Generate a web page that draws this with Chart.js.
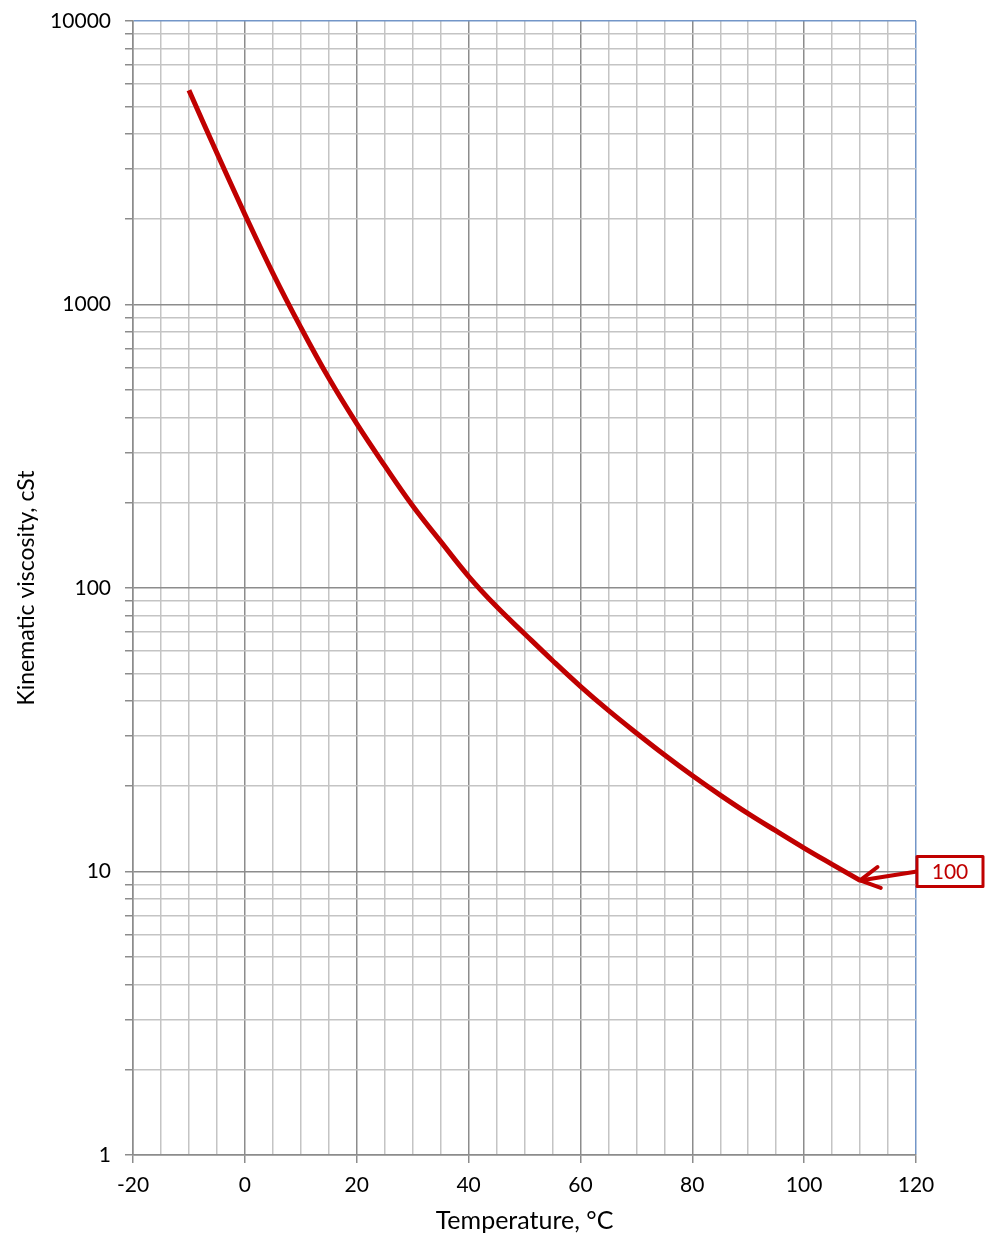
<!DOCTYPE html>
<html>
<head>
<meta charset="utf-8">
<script src="https://cdn.jsdelivr.net/npm/chart.js@4.4.1/dist/chart.umd.min.js"></script>
<style>
  html, body { margin: 0; padding: 0; background: #fff; overflow: hidden; }
  #wrap { position: relative; width: 985px; height: 1243px; }
</style>
</head>
<body>
<div id="wrap"><canvas id="chart"></canvas></div>
<script>
// temperature, °C
const temperatures = [-10, -5, 0, 5, 10, 15, 20, 25, 30, 35, 40, 45, 50, 55, 60, 65, 70, 75, 80, 85, 90, 95, 100, 105, 110];
// kinematic viscosity, cSt
const viscosity = [5700, 3420, 2080, 1290, 830, 550, 380, 270, 195, 146, 110, 86, 69, 55.5, 45, 37, 30.8, 25.8, 21.8, 18.6, 16.0, 13.9, 12.1, 10.6, 9.3];

const xTickLabels = [-20, 0, 20, 40, 60, 80, 100, 120];
const yTickLabels = [1, 10, 100, 1000, 10000];
const markerLabel = '100';

// grid lines at 1..9 of every decade
const yGridValues = [];
for (let d = 1; d < 10000; d *= 10) {
  for (let k = 1; k < 10; k++) yGridValues.push(k * d);
}
yGridValues.push(10000);

const fontFamily = 'Lato, "DejaVu Sans", sans-serif';
const minorGrid = '#c4c4c4';
const majorGrid = '#8c8c8c';
const frameBlue = '#7396c8';

const markerPlugin = {
  id: 'marker',
  afterDatasetsDraw(chart) {
    const { ctx, chartArea, scales } = chart;
    const pts = chart.getDatasetMeta(0).data;
    const tip = pts[pts.length - 1];
    const boxLeft = chartArea.right + 1;
    const boxW = 66, boxH = 30;
    const cy = scales.y.getPixelForValue(10);
    ctx.save();
    ctx.strokeStyle = '#c00000';
    ctx.lineWidth = 4;
    ctx.lineCap = 'round';
    ctx.lineJoin = 'round';
    // arrow shaft
    ctx.beginPath();
    ctx.moveTo(boxLeft, cy);
    ctx.lineTo(tip.x, tip.y);
    ctx.stroke();
    // arrow head
    const ang = Math.atan2(cy - tip.y, boxLeft - tip.x);
    const len = 22;
    ctx.beginPath();
    ctx.moveTo(tip.x + len * Math.cos(ang + 0.5), tip.y + len * Math.sin(ang + 0.5));
    ctx.lineTo(tip.x, tip.y);
    ctx.lineTo(tip.x + len * Math.cos(ang - 0.5), tip.y + len * Math.sin(ang - 0.5));
    ctx.stroke();
    // label box
    ctx.lineWidth = 3;
    ctx.fillStyle = '#fff';
    ctx.fillRect(boxLeft, cy - boxH / 2, boxW, boxH);
    ctx.strokeRect(boxLeft, cy - boxH / 2, boxW, boxH);
    ctx.fillStyle = '#c00000';
    ctx.font = '21px ' + fontFamily;
    ctx.textAlign = 'center';
    ctx.textBaseline = 'middle';
    ctx.fillText(markerLabel, boxLeft + boxW / 2, cy + 1);
    ctx.restore();
  }
};

new Chart(document.getElementById('chart'), {
  type: 'line',
  data: {
    datasets: [{
      data: temperatures.map((t, i) => ({ x: t, y: viscosity[i] })),
      borderColor: '#c00000',
      borderWidth: 5,
      pointRadius: 0,
      tension: 0.4,
      fill: false
    }]
  },
  options: {
    responsive: true,
    maintainAspectRatio: false,
    animation: false,
    layout: { padding: { top: 21, right: 69, left: 0, bottom: 0 } },
    plugins: { legend: { display: false }, tooltip: { enabled: false } },
    scales: {
      x: {
        type: 'linear',
        min: -20,
        max: 120,
        afterFit: s => { s.height = 88; s.paddingLeft = 0; s.paddingRight = 0; },
        ticks: {
          stepSize: 5,
          autoSkip: false,
          maxRotation: 0,
          padding: 10,
          color: '#000',
          font: { family: fontFamily, size: 21 },
          callback: v => xTickLabels.includes(v) ? String(v) : ''
        },
        grid: {
          lineWidth: 1.5,
          tickLength: 8,
          color: c => c.tick && c.tick.value === 120 ? frameBlue : (c.tick && c.tick.value % 20 === 0 ? majorGrid : minorGrid),
          tickColor: c => c.tick && c.tick.value % 20 === 0 ? majorGrid : 'rgba(0,0,0,0)'
        },
        border: { color: majorGrid, width: 1.5 },
        title: {
          display: true,
          text: 'Temperature, °C',
          color: '#000',
          font: { family: fontFamily, size: 25 },
          padding: { top: 0, bottom: 7 }
        }
      },
      y: {
        type: 'logarithmic',
        min: 1,
        max: 10000,
        afterFit: s => { s.width = 133; s.paddingTop = 0; s.paddingBottom = 0; },
        afterBuildTicks: s => { s.ticks = yGridValues.map(v => ({ value: v })); },
        ticks: {
          autoSkip: false,
          padding: 14,
          color: '#000',
          font: { family: fontFamily, size: 21 },
          callback: v => yTickLabels.includes(Number(v)) ? String(v) : ''
        },
        grid: {
          lineWidth: 1.5,
          tickLength: 8,
          color: c => c.tick && c.tick.value === 10000 ? frameBlue : (c.tick && yTickLabels.includes(c.tick.value) ? majorGrid : minorGrid),
          tickColor: majorGrid
        },
        border: { color: majorGrid, width: 1.5 },
        title: {
          display: true,
          text: 'Kinematic viscosity, cSt',
          color: '#000',
          font: { family: fontFamily, size: 23 },
          padding: { top: 13, bottom: 0 }
        }
      }
    }
  },
  plugins: [markerPlugin]
});
</script>
</body>
</html>
